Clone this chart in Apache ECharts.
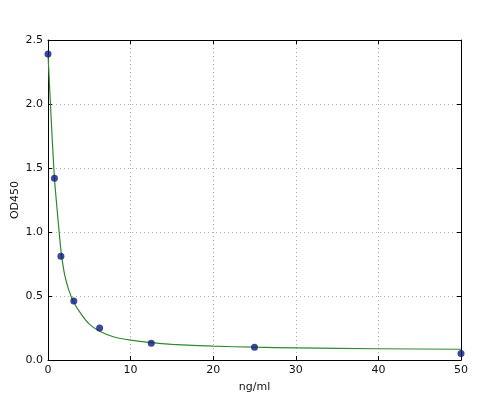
<!DOCTYPE html>
<html>
<head>
<meta charset="utf-8">
<script src="https://cdn.jsdelivr.net/npm/echarts@6/dist/echarts.min.js"></script>
<style>
  html, body { margin: 0; padding: 0; background: #fff; }
  #chart { width: 495px; height: 400px; }
</style>
</head>
<body>
<div id="chart"></div>
<script>
// measured standards
var concX = [0, 0.78, 1.56, 3.125, 6.25, 12.5, 25, 50];
var odY = [2.39, 1.42, 0.81, 0.46, 0.25, 0.13, 0.10, 0.05];

// fitted curve
var curveX = [0, 0.25, 0.5, 0.78, 1, 1.25, 1.56, 2, 2.5, 3.125, 4, 5, 6.25, 8, 10, 12.5, 15, 20, 25, 30, 40, 50];
var curveY = [2.39, 2.06, 1.74, 1.42, 1.25, 1.07, 0.86, 0.67, 0.55, 0.45, 0.36, 0.28, 0.225, 0.18, 0.155, 0.135, 0.122, 0.108, 0.100, 0.095, 0.088, 0.084];

var font = 'DejaVu Sans';
var chart = echarts.init(document.getElementById('chart'));

function pairs (xs, ys) {
  return xs.map(function (x, i) { return [x, ys[i]] })
}

// matplotlib-like axis: inward ticks, black frame
function axisBase (show) {
  return {
    axisLine: { show: true, onZero: false, lineStyle: { color: '#000', width: 1 } },
    axisTick: { show: true, inside: true, length: 4, lineStyle: { color: '#000' } },
    axisLabel: { show: show, color: '#111', fontFamily: font, fontSize: 11, margin: 5 },
    splitLine: { show: false }
  }
}

var xMain = Object.assign(axisBase(true), {
  type: 'value', min: 0, max: 50, interval: 10, position: 'bottom',
  name: 'ng/ml', nameLocation: 'middle', nameGap: 22, nameMoveOverlap: false,
  nameTextStyle: { color: '#111', fontFamily: font, fontSize: 11 },
  splitLine: { show: true, lineStyle: { color: '#aaa', type: [1, 3] } }
})
var xTop = Object.assign(axisBase(false), {
  type: 'value', min: 0, max: 50, interval: 10, position: 'top'
})

var yMain = Object.assign(axisBase(true), {
  type: 'value', min: 0, max: 2.5, interval: 0.5, position: 'left',
  name: 'OD450', nameLocation: 'middle', nameGap: 27, nameRotate: 90, nameMoveOverlap: false,
  nameTextStyle: { color: '#111', fontFamily: font, fontSize: 11 },
  splitLine: { show: true, lineStyle: { color: '#aaa', type: [1, 3] } }
})
yMain.axisLabel.formatter = function (v) { return v.toFixed(1) }
var yRight = Object.assign(axisBase(false), {
  type: 'value', min: 0, max: 2.5, interval: 0.5, position: 'right'
})

chart.setOption({
  animation: false,
  backgroundColor: '#fff',
  grid: { left: 48, right: 34, top: 40, bottom: 40, containLabel: false, outerBoundsMode: 'none' },
  xAxis: [xMain, xTop],
  yAxis: [yMain, yRight],
  series: [
    {
      type: 'line',
      data: pairs(curveX, curveY),
      smooth: 0.25,
      showSymbol: false,
      lineStyle: { color: '#2f8a2f', width: 1.2 },
      z: 2
    },
    {
      type: 'scatter',
      data: pairs(concX, odY),
      symbolSize: 7,
      itemStyle: { color: '#0d1a80' },
      z: 3
    }
  ]
})
</script>
</body>
</html>
